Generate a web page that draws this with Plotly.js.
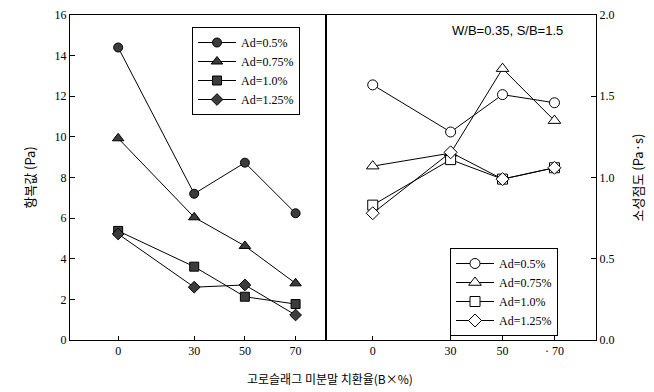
<!DOCTYPE html>
<html>
<head>
<meta charset="utf-8">
<script src="https://cdn.plot.ly/plotly-3.0.1.min.js"></script>
<style>html,body{margin:0;padding:0;background:#fff;}#chart{width:654px;height:392px;}</style>
</head>
<body>
<div id="chart"></div>
<script>
// Replacement ratio of blast furnace slag (%)
const replacement = [0, 30, 50, 70];
const seriesNames = ["Ad=0.5%", "Ad=0.75%", "Ad=1.0%", "Ad=1.25%"];
const symbols = ["circle", "triangle-up", "square", "diamond"];

// Yield value (Pa)
const yield_ad050 = [14.4, 7.2, 8.73, 6.24];
const yield_ad075 = [9.93, 6.04, 4.63, 2.79];
const yield_ad100 = [5.37, 3.61, 2.13, 1.77];
const yield_ad125 = [5.22, 2.6, 2.71, 1.23];

// Plastic viscosity (Pa·s)
const visc_ad050 = [1.57, 1.28, 1.51, 1.46];
const visc_ad075 = [1.07, 1.15, 1.67, 1.35];
const visc_ad100 = [0.83, 1.11, 0.99, 1.06];
const visc_ad125 = [0.78, 1.155, 0.99, 1.06];

const yieldSeries = [yield_ad050, yield_ad075, yield_ad100, yield_ad125];
const viscSeries = [visc_ad050, visc_ad075, visc_ad100, visc_ad125];

const traces = [];
yieldSeries.forEach((ys, i) => {
  traces.push({
    x: replacement, y: ys, name: seriesNames[i], type: "scatter", mode: "lines+markers",
    xaxis: "x", yaxis: "y", legend: "legend",
    line: {color: "#000", width: 1},
    marker: {symbol: symbols[i], size: i === 1 ? 10 : 9, color: "#3c3c3c", line: {color: "#000", width: 1}}
  });
});
viscSeries.forEach((ys, i) => {
  traces.push({
    x: replacement, y: ys, name: seriesNames[i], type: "scatter", mode: "lines+markers",
    xaxis: "x2", yaxis: "y2", legend: "legend2",
    line: {color: "#000", width: 1},
    marker: {symbol: symbols[i], size: i === 1 ? 11 : 10, color: "#fff", line: {color: "#000", width: 1}}
  });
});

const serif = "'Liberation Serif', 'DejaVu Serif', serif";
const tickFont = {family: serif, size: 12, color: "#000"};
const cjk = "'Noto Sans CJK KR', sans-serif";
const split = (326 - 70) / 526;

const layout = {
  width: 654, height: 392,
  margin: {l: 70, r: 58, t: 15, b: 52},
  paper_bgcolor: "#fff", plot_bgcolor: "#fff",
  showlegend: true,
  xaxis: {
    domain: [0, split], range: [-19, 82], tickvals: replacement, ticktext: replacement.map(String),
    ticks: "inside", ticklen: 4, tickcolor: "#000", showline: true, linecolor: "#000", linewidth: 1,
    mirror: true, showgrid: false, zeroline: false, tickfont: tickFont, anchor: "y"
  },
  yaxis: {
    domain: [0, 1], range: [0, 16], dtick: 2, ticks: "inside", ticklen: 5, tickcolor: "#000",
    showline: true, linecolor: "#000", linewidth: 1, mirror: true, showgrid: false, zeroline: false,
    tickfont: tickFont, anchor: "x",
    title: {text: "항복값 (Pa)", font: {family: cjk, size: 13, color: "#000"}, standoff: 16}
  },
  xaxis2: {
    domain: [split, 1], range: [-18, 86], tickvals: replacement, ticktext: ["0", "30", "50", "· 70"],
    ticks: "inside", ticklen: 4, tickcolor: "#000", showline: true, linecolor: "#000", linewidth: 1,
    mirror: true, showgrid: false, zeroline: false, tickfont: tickFont, anchor: "y2"
  },
  yaxis2: {
    domain: [0, 1], range: [0, 2], dtick: 0.5, tickformat: ".1f", side: "right",
    ticks: "inside", ticklen: 5, tickcolor: "#000", showline: true, linecolor: "#000", linewidth: 1,
    mirror: true, showgrid: false, zeroline: false, tickfont: tickFont, anchor: "x2",
    title: {text: "소성점도 (Pa·s)", font: {family: cjk, size: 13, color: "#000"}, standoff: 20}
  },
  legend: {
    x: (192 - 70) / 526, y: (340 - 27) / 325, xanchor: "left", yanchor: "top",
    bgcolor: "#fff", bordercolor: "#000", borderwidth: 1,
    font: {family: serif, size: 12, color: "#000"}, tracegroupgap: 0, itemwidth: 38
  },
  legend2: {
    x: (450 - 70) / 526, y: (340 - 336) / 325, xanchor: "left", yanchor: "bottom",
    bgcolor: "#fff", bordercolor: "#000", borderwidth: 1,
    font: {family: serif, size: 12, color: "#000"}, tracegroupgap: 0, itemwidth: 38
  },
  annotations: [
    {text: "W/B=0.35, S/B=1.5", xref: "paper", yref: "paper", x: (507 - 70) / 526, y: (340 - 31) / 325,
     xanchor: "center", yanchor: "middle", showarrow: false,
     font: {family: "'Liberation Sans', Arial, sans-serif", size: 13, color: "#000"}},
    {text: "고로슬래그 미분말 치환율(B×%)", xref: "paper", yref: "paper", x: (330 - 70) / 526, y: (340 - 378) / 325,
     xanchor: "center", yanchor: "middle", showarrow: false,
     font: {family: cjk, size: 12, color: "#000"}}
  ]
};

Plotly.newPlot("chart", traces, layout, {displayModeBar: false, staticPlot: true});
</script>
</body>
</html>
